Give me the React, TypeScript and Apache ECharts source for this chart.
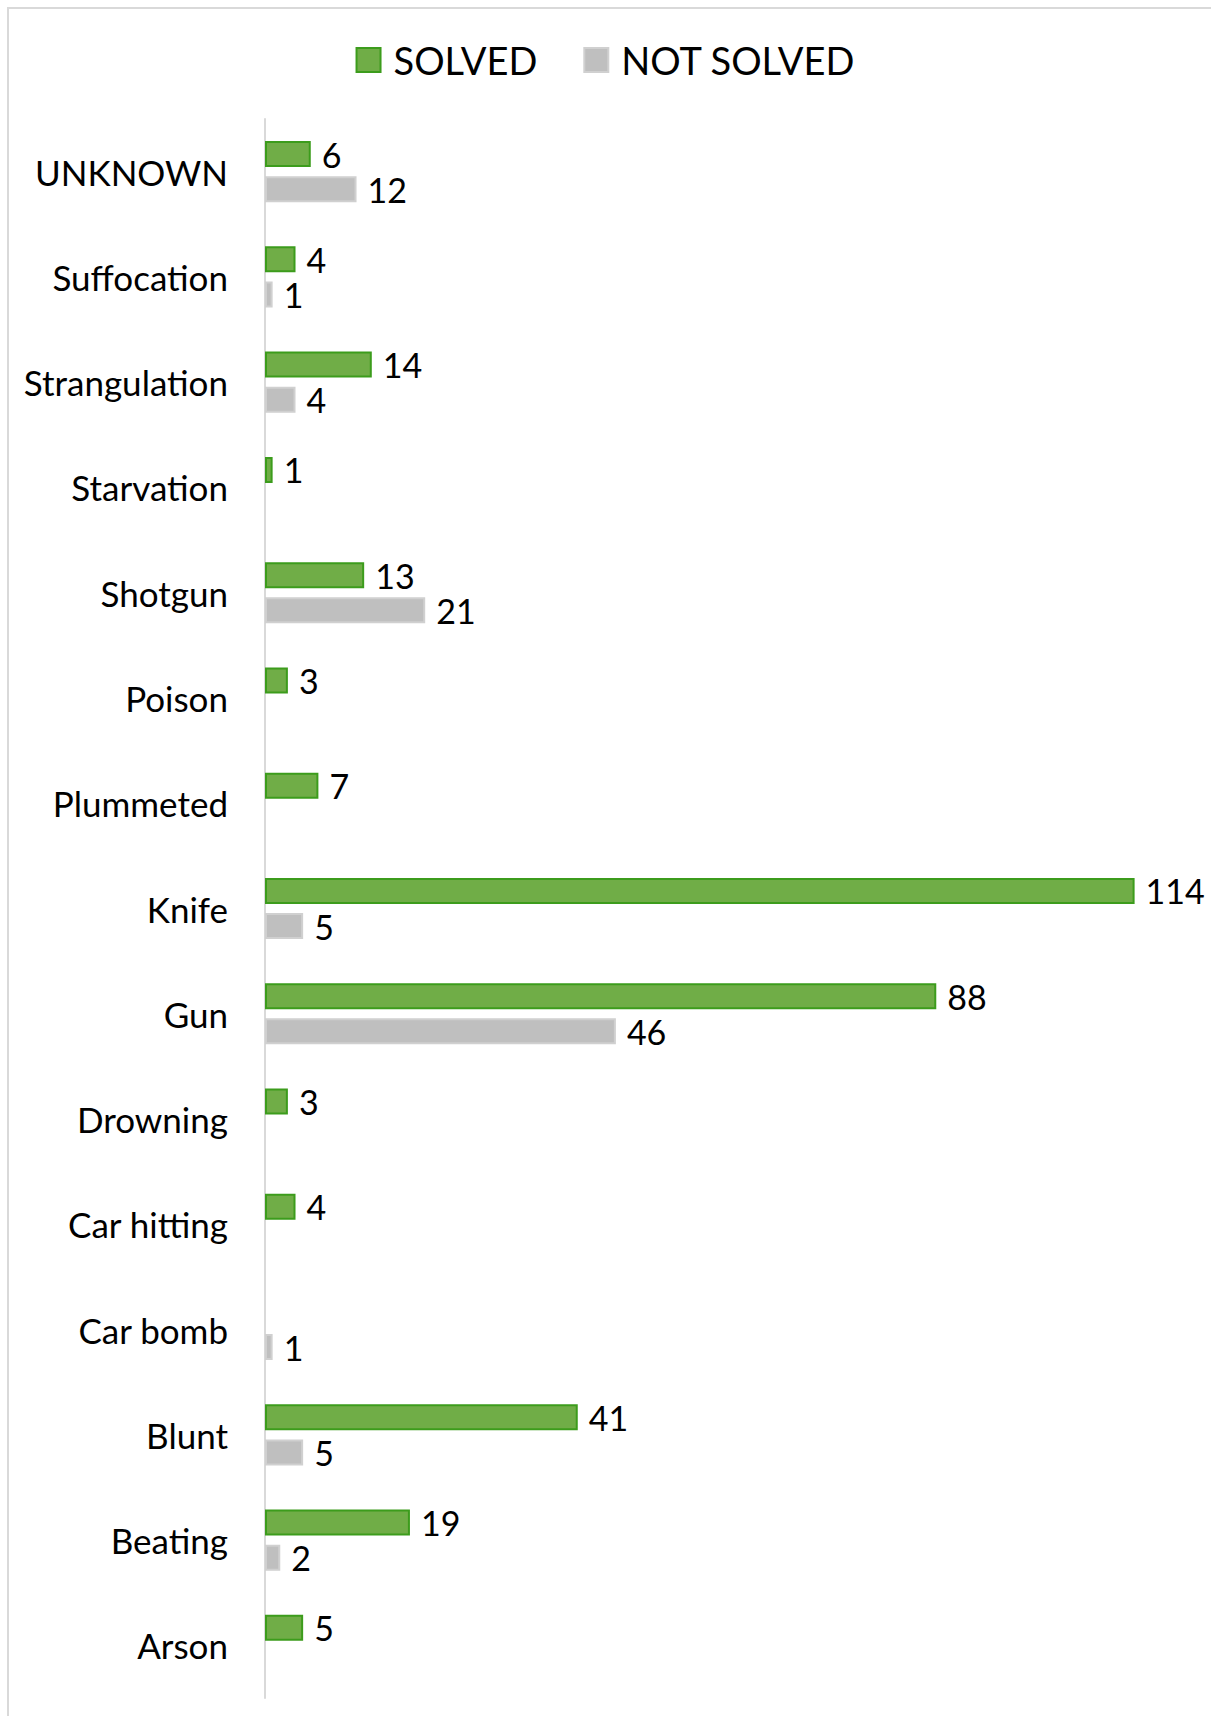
import React, { useEffect, useRef } from "react";
import * as echarts from "echarts";

const categories = [
  "UNKNOWN", "Suffocation", "Strangulation", "Starvation", "Shotgun", "Poison",
  "Plummeted", "Knife", "Gun", "Drowning", "Car hitting", "Car bomb", "Blunt",
  "Beating", "Arson",
];
const solved: (number | null)[] = [6, 4, 14, 1, 13, 3, 7, 114, 88, 3, 4, null, 41, 19, 5];
const notSolved: (number | null)[] = [12, 1, 4, null, 21, null, null, 5, 46, null, null, 1, 5, 2, null];

const FONT = "Lato";

export default function App() {
  const ref = useRef<HTMLDivElement>(null);
  useEffect(() => {
    if (!ref.current) return;
    const chart = echarts.init(ref.current, undefined, { renderer: "svg" });
    const label = {
      show: true,
      position: "right" as const,
      distance: 11,
      color: "#000",
      fontFamily: FONT,
      fontSize: 34,
    };
    chart.setOption({
      animation: false,
      backgroundColor: "#fff",
      graphic: [
        {
          type: "polyline",
          shape: { points: [[8, 1716], [8, 8], [1211, 8]] },
          style: { stroke: "#d9d9d9", lineWidth: 2, fill: "none" },
          silent: true,
        },
      ],
      legend: {
        top: 36,
        left: "center",
        itemWidth: 24,
        itemHeight: 24,
        itemGap: 46,
        icon: "rect",
        textStyle: { fontFamily: FONT, fontSize: 38, color: "#000", padding: [0, 0, 0, 8] },
        data: ["SOLVED", "NOT SOLVED"],
      },
      grid: { left: 265, top: 119, width: 923, height: 1579, containLabel: false },
      xAxis: {
        type: "value",
        min: 0,
        max: 121,
        show: false,
        splitLine: { show: false },
      },
      yAxis: {
        type: "category",
        data: categories,
        inverse: true,
        axisLine: { show: true, lineStyle: { color: "#d9d9d9", width: 2 } },
        axisTick: { show: false },
        axisLabel: {
          margin: 37,
          color: "#000",
          fontFamily: FONT,
          fontSize: 35,
        },
      },
      series: [
        {
          name: "SOLVED",
          type: "bar",
          data: solved,
          barWidth: 26,
          barGap: "35%",
          itemStyle: { color: "#70ad47", borderColor: "#3c9c1c", borderWidth: 2 },
          label,
        },
        {
          name: "NOT SOLVED",
          type: "bar",
          data: notSolved,
          barWidth: 26,
          barGap: "35%",
          itemStyle: { color: "#bfbfbf", borderColor: "#d0d0d0", borderWidth: 2 },
          label,
        },
      ],
    });
    return () => chart.dispose();
  }, []);
  return (
    <div
      ref={ref}
      style={{ position: "fixed", left: 0, top: 0, width: 1211, height: 1716 }}
    />
  );
}
